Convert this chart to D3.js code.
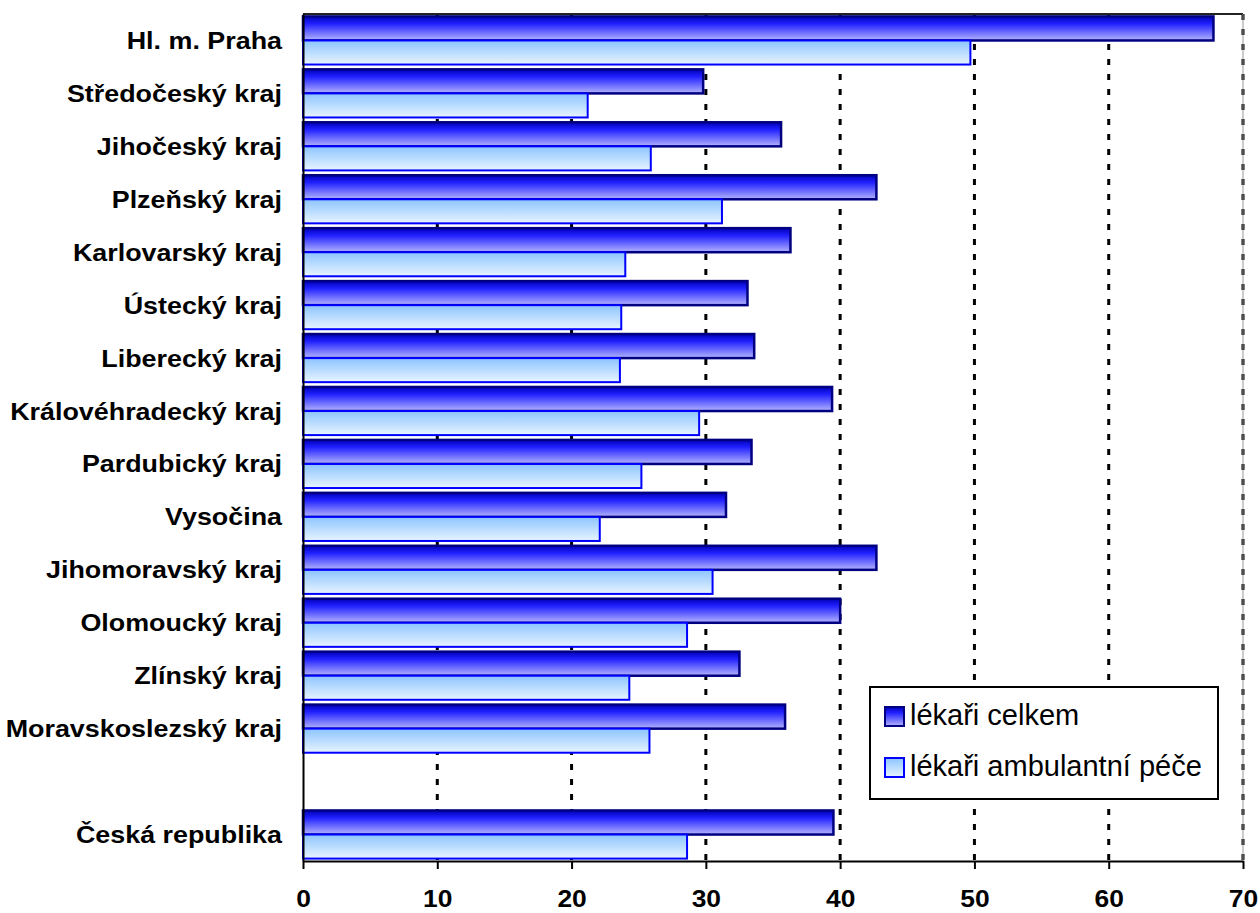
<!DOCTYPE html>
<html>
<head>
<meta charset="utf-8">
<script src="https://cdn.jsdelivr.net/npm/d3@7"></script>
<style>
    body { margin: 0; background: #ffffff; }
    text { font-family: "Liberation Sans", Arial, sans-serif; fill: #000000; }
</style>
</head>
<body>
<div id="chart"></div>
<script>
// values
const categories = [
    "Hl. m. Praha", "Středočeský kraj", "Jihočeský kraj", "Plzeňský kraj",
    "Karlovarský kraj", "Ústecký kraj", "Liberecký kraj", "Královéhradecký kraj",
    "Pardubický kraj", "Vysočina", "Jihomoravský kraj", "Olomoucký kraj",
    "Zlínský kraj", "Moravskoslezský kraj", "Česká republika"
];
const lekariCelkem = [67.8, 29.8, 35.6, 42.7, 36.3, 33.1, 33.6, 39.4, 33.4, 31.5, 42.7, 40.0, 32.5, 35.9, 39.5];
const lekariAmbulantni = [49.7, 21.2, 25.9, 31.2, 24.0, 23.7, 23.6, 29.5, 25.2, 22.1, 30.5, 28.6, 24.3, 25.8, 28.6];
const seriesNames = ["lékaři celkem", "lékaři ambulantní péče"];
const xTicks = [0, 10, 20, 30, 40, 50, 60, 70];

const GAP = "__gap";   // empty row before the republic total

const dimensions = {
    width: 1260,
    height: 913,
    margin: { top: 14, right: 17, bottom: 52, left: 303 }
};
dimensions.innerWidth = dimensions.width - dimensions.margin.left - dimensions.margin.right;
dimensions.innerHeight = dimensions.height - dimensions.margin.top - dimensions.margin.bottom;

const seriesStyle = [
    { grad: "gradCelkem", stroke: "#000080", strokeWidth: 2.5 },
    { grad: "gradAmb", stroke: "#0000ff", strokeWidth: 2 }
];

// rows: regions, blank row, total
const rows = categories.slice(0, -1).concat([GAP, categories[categories.length - 1]]);
const rowData = categories.map((c, i) => ({ name: c, values: [lekariCelkem[i], lekariAmbulantni[i]] }));

const xScale = d3.scaleLinear().domain([0, 70]).range([0, dimensions.innerWidth]);
const yScale = d3.scaleBand().domain(rows).range([0, dimensions.innerHeight]);
const serScale = d3.scaleBand().domain([0, 1]).range([0, yScale.bandwidth()]).paddingOuter(0.1);

const wrapper = d3.select("#chart")
    .append("svg")
    .attr("width", dimensions.width)
    .attr("height", dimensions.height);

//gradients for bars and legend
const defs = wrapper.append("defs");
const addGradient = (id, stops) => {
    const g = defs.append("linearGradient")
        .attr("id", id)
        .attr("x1", 0).attr("y1", 0).attr("x2", 0).attr("y2", 1);
    stops.forEach(s => g.append("stop").attr("offset", s[0]).attr("stop-color", s[1]));
};
addGradient("gradCelkem", [[0, "#0000b8"], [0.3, "#2020ff"], [1, "#b4b4ff"]]);
addGradient("gradAmb", [[0, "#8cc4ff"], [1, "#e8f4ff"]]);

const bounds = wrapper.append("g")
    .attr("transform", `translate(${dimensions.margin.left},${dimensions.margin.top})`);

//dotted gridlines
bounds.append("g")
    .selectAll("line")
    .data(xTicks.slice(1))
    .enter().append("line")
    .attr("x1", d => xScale(d))
    .attr("x2", d => xScale(d))
    .attr("y1", 0)
    .attr("y2", dimensions.innerHeight)
    .attr("stroke", "#000")
    .attr("stroke-width", 3)
    .attr("stroke-dasharray", "6,9");

//plot frame top / right
bounds.append("line")
    .attr("x1", 0).attr("x2", dimensions.innerWidth)
    .attr("y1", 0).attr("y2", 0)
    .attr("stroke", "#222").attr("stroke-width", 2);
bounds.append("line")
    .attr("x1", dimensions.innerWidth).attr("x2", dimensions.innerWidth)
    .attr("y1", 0).attr("y2", dimensions.innerHeight)
    .attr("stroke", "#999").attr("stroke-width", 1);

//BARS
const groups = bounds.append("g")
    .selectAll("g")
    .data(rowData)
    .enter().append("g")
    .attr("transform", d => `translate(0,${yScale(d.name)})`);

groups.selectAll("rect")
    .data(d => d.values.map((v, i) => ({ v, i })))
    .enter().append("rect")
    .attr("x", xScale(0))
    .attr("y", d => serScale(d.i))
    .attr("width", d => xScale(d.v) - xScale(0))
    .attr("height", serScale.bandwidth())
    .attr("fill", d => `url(#${seriesStyle[d.i].grad})`)
    .attr("stroke", d => seriesStyle[d.i].stroke)
    .attr("stroke-width", d => seriesStyle[d.i].strokeWidth);

//x axis
const xAxis = bounds.append("g")
    .attr("transform", `translate(0,${dimensions.innerHeight})`)
    .call(d3.axisBottom(xScale).tickValues(xTicks).tickSize(8).tickSizeOuter(0));
xAxis.select(".domain").attr("stroke", "#000").attr("stroke-width", 2);
xAxis.selectAll(".tick line").attr("stroke", "#000").attr("stroke-width", 2);
xAxis.selectAll(".tick text")
    .attr("y", 0).attr("dy", null)
    .attr("transform", "translate(0,46) scale(1.1,1)")
    .style("font-size", "24px")
    .style("font-weight", "bold");

//y axis
const yAxis = bounds.append("g")
    .call(d3.axisLeft(yScale).tickSize(0).tickSizeOuter(0).tickFormat(d => d == GAP ? "" : d));
yAxis.select(".domain").attr("stroke", "#000").attr("stroke-width", 2);
yAxis.selectAll(".tick text")
    .attr("x", 0).attr("dy", null)
    .attr("transform", "translate(-21,8.5) scale(1.12,1)")
    .attr("text-anchor", "end")
    .style("font-size", "24px")
    .style("font-weight", "bold");

//LEGEND
const legend = wrapper.append("g")
    .attr("transform", "translate(870,687)");
legend.append("rect")
    .attr("width", 348)
    .attr("height", 112)
    .attr("fill", "#fff")
    .attr("stroke", "#000")
    .attr("stroke-width", 2);
const items = legend.selectAll("g.item")
    .data(seriesNames)
    .enter().append("g")
    .attr("class", "item")
    .attr("transform", (d, i) => `translate(15,${20 + i * 51})`);
items.append("rect")
    .attr("width", 19)
    .attr("height", 19)
    .attr("fill", (d, i) => `url(#${seriesStyle[i].grad})`)
    .attr("stroke", (d, i) => seriesStyle[i].stroke)
    .attr("stroke-width", 2);
items.append("text")
    .attr("x", 25)
    .attr("y", 18)
    .style("font-size", "29px")
    .text(d => d);
</script>
</body>
</html>
